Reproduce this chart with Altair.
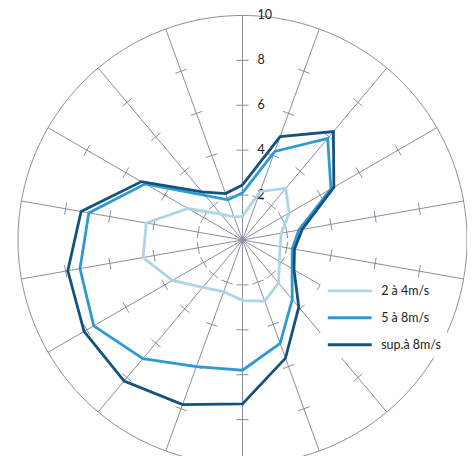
import math
import altair as alt
import pandas as pd

# ---- data ----
directions = list(range(0, 360, 20))  # degrees, clockwise from north
series_names = ["2 à 4m/s", "5 à 8m/s", "sup.à 8m/s"]
light = [1.05, 2.3, 3.0, 2.4, 1.75, 1.7, 1.9, 2.5, 2.9, 2.7, 2.45, 2.75, 3.6, 4.5, 4.35, 2.8, 1.5, 1.1]
medium = [2.1, 4.2, 5.9, 4.55, 2.55, 2.25, 2.55, 3.45, 4.9, 5.8, 6.0, 6.9, 7.65, 7.35, 6.95, 5.0, 2.6, 1.9]
dark = [2.45, 4.9, 6.3, 4.7, 2.7, 2.35, 2.65, 3.9, 5.6, 7.3, 7.8, 8.2, 8.15, 7.9, 7.3, 5.2, 2.8, 2.2]
colors = ["#aed4e8", "#2e9ad2", "#14527e"]
tick_levels = [2, 4, 6, 8]
label_levels = [2, 4, 6, 8, 10]
r_max = 10

GRID = "#8b8e9e"
FONT = "Lato"

# ---- tables ----
rows = []
for name, vals in zip(series_names, [light, medium, dark]):
    for i, (d, v) in enumerate(zip(directions + [360], vals + [vals[0]])):
        rows.append({"series": name, "dir": d, "r": v, "order": i})
series_df = pd.DataFrame(rows)

spoke_df = pd.DataFrame({"dir": directions})
tick_df = pd.DataFrame([{"dir": d, "level": l} for d in directions for l in tick_levels])
label_df = pd.DataFrame({"level": label_levels, "text": [str(l) for l in label_levels]})

xs = alt.Scale(domain=[-10, 10], nice=False, zero=False)
ys = alt.Scale(domain=[-9.6, 10], nice=False, zero=False)

RAD = "PI/180"

circle = alt.Chart(alt.sequence(0, 361, 2, as_="a")).transform_calculate(
    x=f"{r_max}*sin(datum.a*{RAD})", y=f"{r_max}*cos(datum.a*{RAD})"
).mark_line(color=GRID, strokeWidth=1).encode(
    x=alt.X("x:Q", scale=xs, axis=None),
    y=alt.Y("y:Q", scale=ys, axis=None),
    order="a:Q",
)

spokes = alt.Chart(spoke_df).transform_calculate(
    x0="0", y0="0",
    x1=f"{r_max}*sin(datum.dir*{RAD})", y1=f"{r_max}*cos(datum.dir*{RAD})",
).mark_rule(color=GRID, strokeWidth=1).encode(
    x=alt.X("x0:Q", scale=xs, axis=None),
    y=alt.Y("y0:Q", scale=ys, axis=None),
    x2="x1:Q", y2="y1:Q",
)

h = 0.27
ticks = alt.Chart(tick_df).transform_calculate(
    xa=f"datum.level*sin(datum.dir*{RAD}) - {h}*cos(datum.dir*{RAD})",
    ya=f"datum.level*cos(datum.dir*{RAD}) + {h}*sin(datum.dir*{RAD})",
    xb=f"datum.level*sin(datum.dir*{RAD}) + {h}*cos(datum.dir*{RAD})",
    yb=f"datum.level*cos(datum.dir*{RAD}) - {h}*sin(datum.dir*{RAD})",
).mark_rule(color=GRID, strokeWidth=1).encode(
    x=alt.X("xa:Q", scale=xs, axis=None),
    y=alt.Y("ya:Q", scale=ys, axis=None),
    x2="xb:Q", y2="yb:Q",
)

labels = alt.Chart(label_df).transform_calculate(x0="0").mark_text(
    align="left", baseline="middle", dx=15, font=FONT, fontSize=12.5, color="#222222"
).encode(
    x=alt.X("x0:Q", scale=xs, axis=None),
    y=alt.Y("level:Q", scale=ys, axis=None),
    text="text:N",
)

lines = alt.Chart(series_df).transform_calculate(
    x=f"datum.r*sin(datum.dir*{RAD})", y=f"datum.r*cos(datum.dir*{RAD})"
).mark_line(strokeWidth=2.8, strokeJoin="miter").encode(
    x=alt.X("x:Q", scale=xs, axis=None),
    y=alt.Y("y:Q", scale=ys, axis=None),
    order="order:Q",
    color=alt.Color(
        "series:N",
        scale=alt.Scale(domain=series_names, range=colors),
        legend=alt.Legend(
            title=None, orient="none", legendX=303, legendY=264,
            symbolType="stroke", symbolSize=1936, symbolStrokeWidth=3,
            clipHeight=12, rowPadding=14.0, labelOffset=8,
            labelFont=FONT, labelFontSize=12.5, labelColor="#222222",
            fillColor="white", padding=6,
        ),
    ),
)

chart = alt.layer(circle, spokes, ticks, labels, lines).properties(
    width=450, height=441,
    autosize=alt.AutoSizeParams(type="none"),
    padding={"left": 10, "top": 7, "right": 0, "bottom": 0},
).configure_view(stroke=None)

chart.save("out.html", embed_options={"renderer": "svg", "actions": False})
